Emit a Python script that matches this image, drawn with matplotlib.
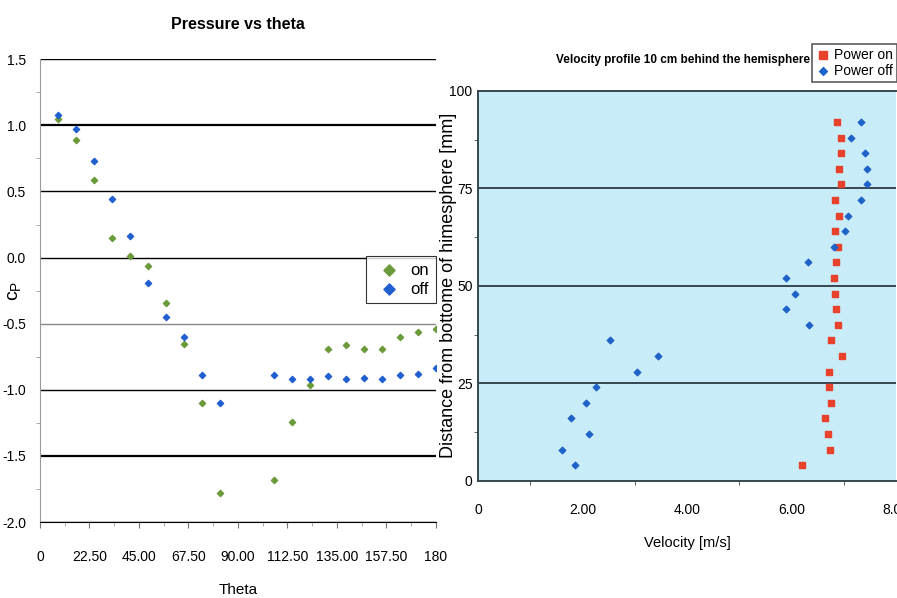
import numpy as np
import matplotlib
matplotlib.use('Agg')
import matplotlib.pyplot as plt
from matplotlib.ticker import MultipleLocator

plt.rcParams['font.family'] = ['Liberation Sans', 'DejaVu Sans']

# Pressure vs theta
theta = [8.2, 16.4, 24.5, 32.7, 40.9, 49.1, 57.3, 65.5, 73.6, 81.8,
         106.4, 114.5, 122.7, 130.9, 139.1, 147.3, 155.5, 163.6, 171.8, 180.0]
cp_on = [1.05, 0.89, 0.59, 0.15, 0.01, -0.06, -0.34, -0.65, -1.10, -1.78,
         -1.68, -1.24, -0.96, -0.69, -0.66, -0.69, -0.69, -0.60, -0.56, -0.54]
cp_off = [1.08, 0.975, 0.73, 0.44, 0.16, -0.19, -0.45, -0.60, -0.89, -1.10,
          -0.89, -0.92, -0.92, -0.895, -0.92, -0.91, -0.92, -0.89, -0.88, -0.835]
theta_ticks = [0, 22.5, 45, 67.5, 90, 112.5, 135, 157.5, 180]
theta_labels = ['0', '22.50', '45.00', '67.50', '90.00', '112.50', '135.00', '157.50', '180']
cp_ticks = [1.5, 1.0, 0.5, 0.0, -0.5, -1.0, -1.5, -2.0]

# Velocity profile
dist = [4, 8, 12, 16, 20, 24, 28, 32, 36, 40, 44, 48,
        52, 56, 60, 64, 68, 72, 76, 80, 84, 88, 92]
vel_on = [6.20, 6.73, 6.69, 6.63, 6.75, 6.72, 6.72, 6.96, 6.76, 6.89, 6.85, 6.83,
          6.81, 6.85, 6.89, 6.83, 6.91, 6.84, 6.94, 6.90, 6.95, 6.94, 6.86]
vel_off = [1.85, 1.61, 2.12, 1.77, 2.07, 2.25, 3.04, 3.44, 2.53, 6.34, 5.90, 6.06,
           5.90, 6.31, 6.81, 7.02, 7.07, 7.32, 7.44, 7.45, 7.40, 7.14, 7.33]
vel_ticks = [0, 2, 4, 6, 8]
vel_labels = ['0', '2.00', '4.00', '6.00', '8.00']
dist_ticks = [0, 25, 50, 75, 100]

fig = plt.figure(figsize=(8.97, 5.98), dpi=100)

# ---- left chart ----
ax1 = fig.add_axes([0.0446, 0.127, 0.4414, 0.774])
for y in cp_ticks:
    lw = 1.6 if y in (1.0, -1.5) else 1.0
    col = '#888888' if y == -0.5 else 'black'
    ax1.axhline(y, color=col, lw=lw, zorder=1)
ax1.scatter(theta, cp_on, marker='D', s=10, color='#6a9a3a', zorder=3, label='on')
ax1.scatter(theta, cp_off, marker='D', s=10, color='#1f5fcf', zorder=3, label='off')
ax1.set_xlim(0, 180)
ax1.set_ylim(-2.0, 1.5)
ax1.set_xticks(theta_ticks)
ax1.set_xticklabels(theta_labels)
ax1.xaxis.set_minor_locator(MultipleLocator(11.25))
ax1.set_yticks(cp_ticks)
ax1.set_yticklabels(['%.1f' % v for v in cp_ticks])
ax1.yaxis.set_minor_locator(MultipleLocator(0.25))
for s in ['top', 'right']:
    ax1.spines[s].set_visible(False)
ax1.spines['left'].set_color('#999999')
ax1.spines['bottom'].set_color('black')
ax1.tick_params(axis='both', labelsize=10, color='#777777', length=4)
ax1.tick_params(axis='x', pad=16)
ax1.tick_params(axis='y', length=0, pad=10)
ax1.tick_params(which='minor', length=3, color='#999999')
ax1.set_title('Pressure vs theta', fontsize=11.5, fontweight='bold', pad=22)
ax1.set_xlabel('Theta', fontsize=11, labelpad=14)
ax1.set_ylabel(r'c$_\mathregular{P}$', fontsize=14)
ax1.yaxis.set_label_coords(-0.04, 0.5)
leg1 = ax1.legend(loc='upper right', bbox_to_anchor=(1.0, 0.575), fontsize=12,
                  frameon=True, fancybox=False, edgecolor='black',
                  handletextpad=0.3, borderpad=0.4, labelspacing=0.25, markerscale=1.8,
                  borderaxespad=0.0)
leg1.get_frame().set_linewidth(0.8)

# ---- right chart ----
ax2 = fig.add_axes([0.533, 0.196, 0.466, 0.652])
ax2.set_facecolor('#c9ecf9')
for y in [25, 50, 75]:
    ax2.axhline(y, color='#37474f', lw=1.4, zorder=1)
ax2.scatter(vel_on, dist, marker='s', s=20, color='#e8412c', zorder=3, label='Power on')
ax2.scatter(vel_off, dist, marker='D', s=11, color='#1e62c8', zorder=3, label='Power off')
ax2.set_xlim(0, 8)
ax2.set_ylim(0, 100)
ax2.set_xticks(vel_ticks)
ax2.set_xticklabels(vel_labels)
ax2.xaxis.set_minor_locator(MultipleLocator(1))
ax2.set_yticks(dist_ticks)
ax2.yaxis.set_minor_locator(MultipleLocator(12.5))
ax2.spines['right'].set_visible(False)
for s in ['left', 'bottom', 'top']:
    ax2.spines[s].set_color('#37474f')
    ax2.spines[s].set_linewidth(1.4)
ax2.tick_params(axis='both', labelsize=10, length=0)
ax2.tick_params(axis='x', pad=16)
ax2.tick_params(axis='y', pad=4)
ax2.tick_params(which='minor', length=3, color='#37474f')
ax2.set_title('Velocity profile 10 cm behind the hemisphere', fontsize=8.5,
              fontweight='bold', pad=20, x=0.49)
ax2.set_xlabel('Velocity [m/s]', fontsize=10.5, labelpad=14)
ax2.set_ylabel('Distance from bottome of himesphere [mm]', fontsize=13)
ax2.yaxis.set_label_coords(-0.05, 0.5)
leg2 = ax2.legend(loc='lower right', fontsize=10, frameon=True, fancybox=False,
                  edgecolor='#333333', handletextpad=0.3, borderpad=0.3,
                  labelspacing=0.15, handlelength=1.0, borderaxespad=0.0, markerscale=1.2)
leg2.set_bbox_to_anchor((1.0, 1 - 82 / 598), transform=fig.transFigure)
leg2.get_frame().set_linewidth(1.2)

fig.savefig('out.png', dpi=100)
